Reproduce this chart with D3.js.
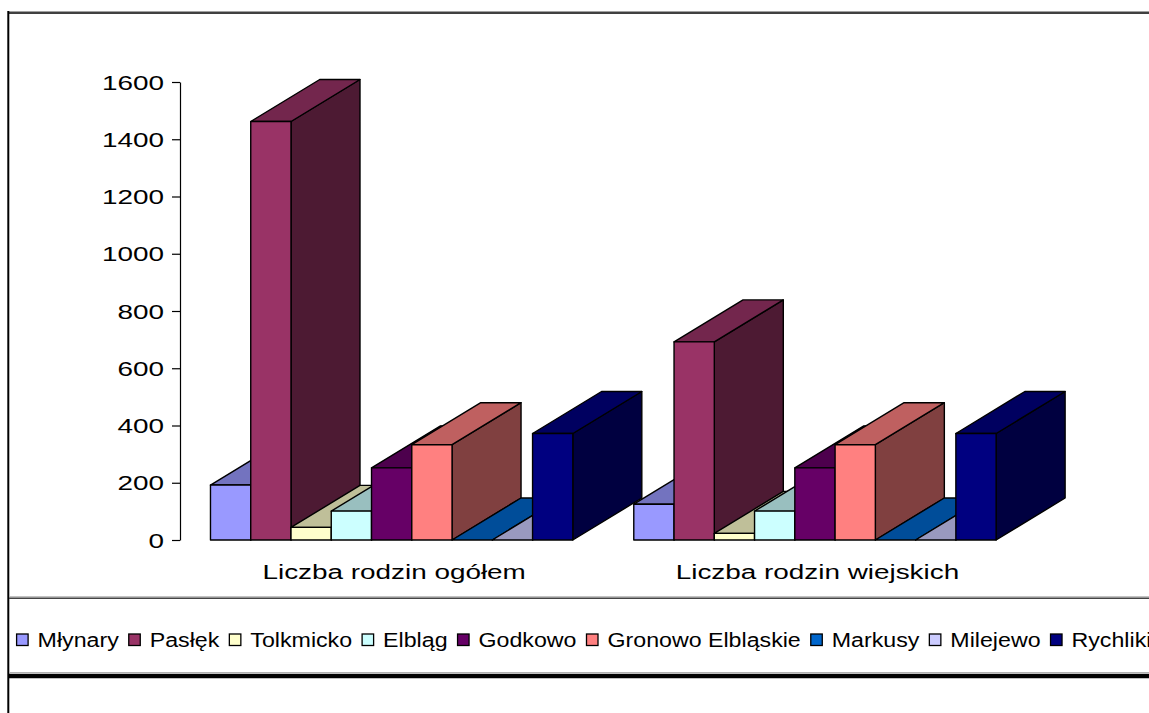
<!DOCTYPE html>
<html>
<head>
<meta charset="utf-8">
<script src="https://cdn.jsdelivr.net/npm/d3@7"></script>
<style>
  html, body { margin: 0; padding: 0; background: #fff; }
  svg { display: block; font-family: "Liberation Sans", Arial, sans-serif; }
</style>
</head>
<body>
<svg id="chart" width="1149" height="713"></svg>
<script>
// Number of families per gmina, two categories
const categories = ["Liczba rodzin ogółem", "Liczba rodzin wiejskich"];
const seriesNames = ["Młynary", "Pasłęk", "Tolkmicko", "Elbląg", "Godkowo",
                     "Gronowo Elbląskie", "Markusy", "Milejewo", "Rychliki"];
const valuesTotal = [192, 1462, 44, 101, 252, 333, 0, 0, 372];
const valuesRural = [125, 692, 23, 101, 252, 333, 0, 0, 372];
const yTicks = [0, 200, 400, 600, 800, 1000, 1200, 1400, 1600];
const seriesColors = ["#9999FF", "#993366", "#FFFFCC", "#CCFFFF", "#660066",
                      "#FF8080", "#0066CC", "#CCCCFF", "#000080"];

const rows = [valuesTotal, valuesRural];

const svg = d3.select("#chart");
const W = 1149, H = 713;

// oblique depth of the 3D columns
const depthX = 69, depthY = -42;
const axisStretch = 1.43;   // axis text is drawn wide
const legendStretch = 1.16;

const shade = (c, k) => {
  const r = d3.rgb(c);
  return d3.rgb(Math.round(r.r * k), Math.round(r.g * k), Math.round(r.b * k)).formatHex();
};

// ---- frame lines ----
const frame = svg.append("g");
frame.append("line").attr("x1", 8).attr("x2", W).attr("y1", 11.5).attr("y2", 11.5)
  .attr("stroke", "#a0a0a0").attr("stroke-width", 1);
frame.append("line").attr("x1", 8).attr("x2", W).attr("y1", 13).attr("y2", 13)
  .attr("stroke", "#000").attr("stroke-width", 1.6);
frame.append("line").attr("x1", 8.3).attr("x2", 8.3).attr("y1", 11).attr("y2", H)
  .attr("stroke", "#000").attr("stroke-width", 2);
frame.append("line").attr("x1", 9).attr("x2", W).attr("y1", 596.8).attr("y2", 596.8)
  .attr("stroke", "#a8a8a8").attr("stroke-width", 1);
frame.append("line").attr("x1", 9).attr("x2", W).attr("y1", 598.3).attr("y2", 598.3)
  .attr("stroke", "#444").attr("stroke-width", 1.4);
frame.append("line").attr("x1", 9).attr("x2", W).attr("y1", 672.5).attr("y2", 672.5)
  .attr("stroke", "#b0b0b0").attr("stroke-width", 1);
frame.append("line").attr("x1", 9).attr("x2", W).attr("y1", 676).attr("y2", 676)
  .attr("stroke", "#000").attr("stroke-width", 4.5);

// ---- scales ----
const y = d3.scaleLinear().domain([0, 1600]).range([540, 82]);
const x0 = d3.scaleBand().domain(categories).range([180, 1026.6])
  .paddingInner(0.144).paddingOuter(0.072);
const x1 = d3.scaleBand().domain(seriesNames).range([0, x0.bandwidth()]).padding(0);

// ---- value axis ----
const yAxis = d3.axisLeft(y).tickValues(yTicks).tickSize(8).tickSizeOuter(0)
  .tickFormat(d3.format("d"));
const ga = svg.append("g").attr("transform", "translate(180,0)").call(yAxis);
ga.select(".domain").attr("stroke", "#000").attr("stroke-width", 1.2);
ga.selectAll(".tick line").attr("stroke", "#000").attr("stroke-width", 1.2);
ga.selectAll(".tick text")
  .attr("x", 0).attr("dy", "0.36em")
  .attr("transform", `translate(-16,0) scale(${axisStretch},1)`)
  .attr("text-anchor", "end")
  .attr("fill", "#000")
  .style("font-size", "19.5px")
  .style("font-family", "'Liberation Sans', Arial, sans-serif");

// ---- 3D columns ----
const bars = svg.append("g").attr("stroke", "#000").attr("stroke-width", 1.4)
  .attr("stroke-linejoin", "round");
const base = y(0);

categories.forEach((cat, ci) => {
  seriesNames.forEach((name, si) => {
    const v = rows[ci][si];
    const xl = x0(cat) + x1(name);
    const xr = xl + x1.bandwidth();
    const top = y(v);
    const col = seriesColors[si];
    const g = bars.append("g");
    // right side face
    g.append("path")
      .attr("d", `M${xr},${top}L${xr + depthX},${top + depthY}L${xr + depthX},${base + depthY}L${xr},${base}Z`)
      .attr("fill", shade(col, 0.5));
    // top face
    g.append("path")
      .attr("d", `M${xl},${top}L${xr},${top}L${xr + depthX},${top + depthY}L${xl + depthX},${top + depthY}Z`)
      .attr("fill", shade(col, 0.75));
    // front face
    g.append("rect")
      .attr("x", xl).attr("y", top)
      .attr("width", xr - xl).attr("height", base - top)
      .attr("fill", col);
  });
});

// ---- category labels ----
svg.append("g").selectAll("text").data(categories).join("text")
  .attr("transform", d => `translate(${x0(d) + x0.bandwidth() / 2 + 2.5},579) scale(${axisStretch},1)`)
  .attr("text-anchor", "middle")
  .style("font-size", "19.5px")
  .attr("fill", "#000")
  .text(d => d);

// ---- legend ----
const legend = svg.append("g");
let lx = 16.6;
seriesNames.forEach((name, si) => {
  legend.append("rect")
    .attr("x", lx).attr("y", 634).attr("width", 11.5).attr("height", 11.5)
    .attr("fill", seriesColors[si]).attr("stroke", "#000").attr("stroke-width", 1.3);
  const tx = lx + 11.5 + 9.5;
  const t = legend.append("text")
    .attr("transform", `translate(${tx},647.4) scale(${legendStretch},1)`)
    .style("font-size", "20px")
    .attr("fill", "#000")
    .text(name);
  const w = t.node().getComputedTextLength() * legendStretch;
  lx = tx + w + 10;
});
</script>
</body>
</html>
